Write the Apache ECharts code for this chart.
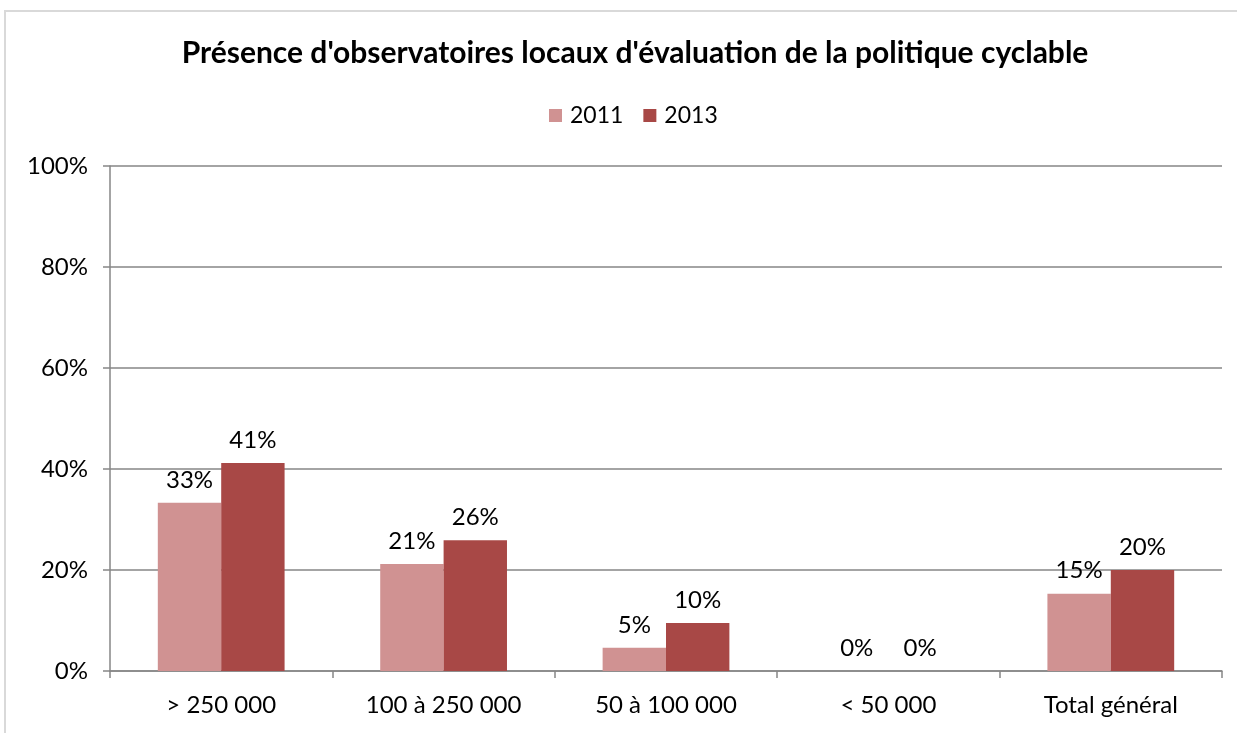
<!DOCTYPE html>
<html>
<head>
<meta charset="utf-8">
<script src="https://cdn.jsdelivr.net/npm/echarts@6/dist/echarts.min.js"></script>
<style>
  html, body { margin: 0; padding: 0; background: #fff; overflow: hidden; }
  #frame { position: absolute; left: 4px; top: 10px; width: 1250px; height: 740px;
           border: 2px solid #d9d9d9; box-sizing: border-box; pointer-events: none; }
  #chart { position: absolute; left: 0; top: 0; width: 1237px; height: 733px; }
</style>
</head>
<body>
<div id="frame"></div>
<div id="chart"></div>
<script>
// Chart data
const categories = ["> 250 000", "100 à 250 000", "50 à 100 000", "< 50 000", "Total général"];
const values_2011 = [33.3, 21.2, 4.6, 0, 15.3];
const values_2013 = [41.2, 25.9, 9.5, 0, 20.0];
const yTicks = [0, 20, 40, 60, 80, 100];

const font = "Lato, 'Open Sans', sans-serif";
const c2011 = "#d09292";
const c2013 = "#a84846";
const axisGray = "#868686";

let labelStyle = {
  show: true,
  position: "top",
  distance: 11,
  color: "#000",
  fontSize: 24,
  fontFamily: font,
  formatter: function (p) {
    return Math.round(p.value) + "%";
  },
};

let myChart = echarts.init(document.getElementById("chart"));
let option = {
  animation: false,
  title: {
    text: "Présence d'observatoires locaux d'évaluation de la politique cyclable",
    left: 630,
    textAlign: "center",
    top: 33,
    textStyle: { fontSize: 30, fontWeight: "bold", color: "#000", fontFamily: font },
  },
  legend: {
    data: ["2011", "2013"],
    left: 544,
    top: 99,
    orient: "horizontal",
    itemWidth: 13,
    itemHeight: 13,
    itemGap: 20,
    icon: "rect",
    textStyle: { fontSize: 23, color: "#000", fontFamily: font, padding: [0, 0, 0, 3] },
  },
  grid: { left: 110, right: 15, top: 166, bottom: 62, containLabel: false },
  xAxis: {
    type: "category",
    data: categories,
    axisLine: { lineStyle: { color: axisGray, width: 1.5 } },
    axisTick: { show: true, length: 7, lineStyle: { color: axisGray, width: 1.5 } },
    axisLabel: { fontSize: 24, color: "#000", fontFamily: font, margin: 22 },
  },
  yAxis: {
    type: "value",
    min: yTicks[0],
    max: yTicks[yTicks.length - 1],
    interval: 20,
    axisLine: { show: true, lineStyle: { color: axisGray, width: 1.5 } },
    axisTick: { show: true, length: 7, lineStyle: { color: axisGray, width: 1.5 } },
    splitLine: { lineStyle: { color: axisGray, width: 1.5 } },
    axisLabel: {
      fontSize: 24, color: "#000", fontFamily: font, margin: 22,
      formatter: function (v) { return v + "%"; },
    },
  },
  series: [
    {
      name: "2011",
      type: "bar",
      data: values_2011,
      barWidth: "28.5%",
      barGap: "0%",
      itemStyle: { color: c2011 },
      label: labelStyle,
    },
    {
      name: "2013",
      type: "bar",
      data: values_2013,
      barWidth: "28.5%",
      barGap: "0%",
      itemStyle: { color: c2013 },
      label: labelStyle,
    },
  ],
};
myChart.setOption(option);
</script>
</body>
</html>
